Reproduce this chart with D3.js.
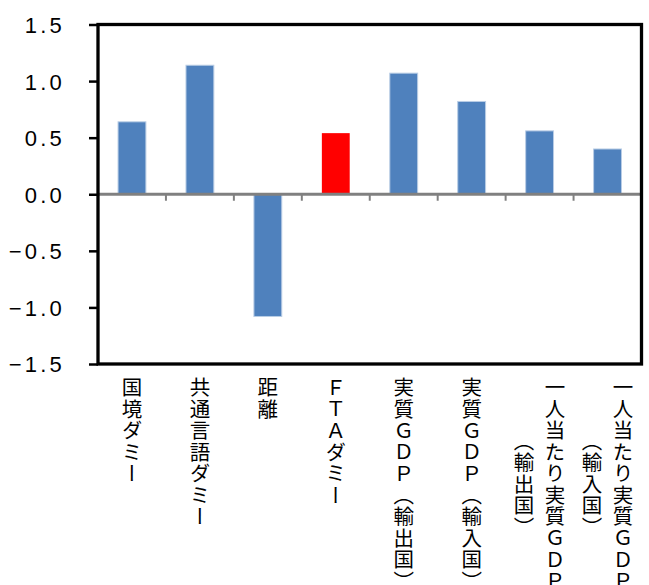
<!DOCTYPE html>
<html>
<head>
<meta charset="utf-8">
<script src="https://cdn.jsdelivr.net/npm/d3@7/dist/d3.min.js"></script>
<style>
  html, body { margin: 0; padding: 0; background: #fff; }
  svg { display: block; }
</style>
</head>
<body>
<svg id="chart" width="649" height="585"></svg>
<script>
// Estimated coefficients of the gravity model variables
const categories = [
  ["国境ダミー"],
  ["共通言語ダミー"],
  ["距離"],
  ["ＦＴＡダミー"],
  ["実質ＧＤＰ（輸出国）"],
  ["実質ＧＤＰ（輸入国）"],
  ["一人当たり実質ＧＤＰ", "（輸出国）"],
  ["一人当たり実質ＧＤＰ", "（輸入国）"]
];
const values = [0.64, 1.14, -1.08, 0.54, 1.07, 0.82, 0.56, 0.40];
const highlighted = [false, false, false, true, false, false, false, false];
const yTicks = [1.5, 1.0, 0.5, 0.0, -0.5, -1.0, -1.5];
const yDomain = [-1.5, 1.5];

const svg = d3.select("#chart");
const plot = { left: 98, right: 641.5, top: 24.5, bottom: 364 };

const x = d3.scaleBand()
  .domain(d3.range(categories.length))
  .range([plot.left, plot.right])
  .paddingInner(0.59)
  .paddingOuter(0.295);

const y = d3.scaleLinear().domain(yDomain).range([plot.bottom, plot.top]);

// Bars
svg.append("g")
  .selectAll("rect")
  .data(values)
  .join("rect")
  .attr("x", (d, i) => x(i))
  .attr("width", x.bandwidth())
  .attr("y", d => y(Math.max(0, d)))
  .attr("height", d => Math.abs(y(d) - y(0)))
  .attr("fill", (d, i) => highlighted[i] ? "#ff0000" : "#4f81bd")
  .attr("stroke", (d, i) => highlighted[i] ? "none" : "#b9cde5")
  .attr("stroke-width", 1);

// Zero line with category tick marks at the band boundaries
const step = x.step();
const boundaries = d3.range(categories.length + 1).map(i => plot.left + i * step);
svg.append("g")
  .selectAll("line")
  .data(boundaries)
  .join("line")
  .attr("x1", d => d).attr("x2", d => d)
  .attr("y1", y(0)).attr("y2", y(0) + 6.5)
  .attr("stroke", "#808080")
  .attr("stroke-width", 2);

svg.append("line")
  .attr("x1", plot.left).attr("x2", plot.right)
  .attr("y1", y(0)).attr("y2", y(0))
  .attr("stroke", "#808080")
  .attr("stroke-width", 3);

// Y axis
const yAxis = d3.axisLeft(y)
  .tickValues(yTicks)
  .tickSize(9)
  .tickPadding(0)
  .tickFormat(d3.format(".1f"));

const gy = svg.append("g")
  .attr("transform", `translate(${plot.left},0)`)
  .call(yAxis);
gy.select(".domain").remove();
gy.selectAll(".tick line").attr("stroke", "#000").attr("stroke-width", 2.5);
gy.selectAll(".tick text")
  .attr("x", -33)
  .attr("dy", "0.36em")
  .attr("fill", "#000")
  .style("font-family", "'Liberation Sans', Arial, sans-serif")
  .style("font-size", "22px")
  .style("letter-spacing", "3.2px");

// Plot frame
svg.append("rect")
  .attr("x", plot.left).attr("y", plot.top)
  .attr("width", plot.right - plot.left)
  .attr("height", plot.bottom - plot.top)
  .attr("fill", "none")
  .attr("stroke", "#000")
  .attr("stroke-width", 3.3);

// Vertical category labels
const labelTop = 377;
const lineGap = 31;
const labels = svg.append("g")
  .style("font-family", "'Noto Sans CJK JP', sans-serif")
  .style("font-size", "20.5px")
  .style("letter-spacing", "1px")
  .attr("fill", "#000");

categories.forEach((lines, i) => {
  const cx = x(i) + x.bandwidth() / 2;
  const n = lines.length;
  const texts = lines.map((line, j) =>
    labels.append("text")
      .attr("x", cx + ((n - 1) / 2 - j) * lineGap)
      .attr("y", labelTop)
      .style("writing-mode", "vertical-rl")
      .style("text-orientation", "mixed")
      .attr("text-anchor", "start")
      .text(line)
  );
  const lens = texts.map(t => t.node().getComputedTextLength());
  const maxLen = d3.max(lens);
  texts.forEach((t, j) => t.attr("y", labelTop + (maxLen - lens[j]) / 2));
});
</script>
</body>
</html>
